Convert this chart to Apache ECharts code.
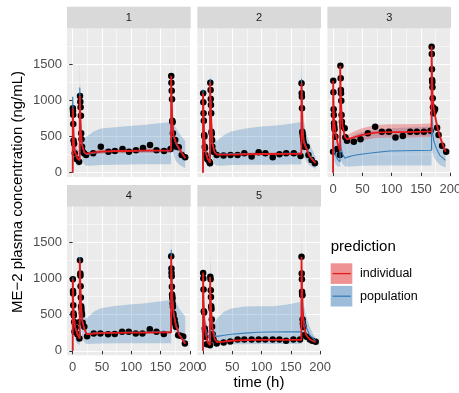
<!DOCTYPE html>
<html>
<head>
<meta charset="utf-8">
<script src="https://cdn.jsdelivr.net/npm/echarts@6/dist/echarts.min.js"></script>
<style>
  html, body { margin: 0; padding: 0; background: #fff; }
  #main { width: 459px; height: 393px; }
</style>
</head>
<body>
<div id="main"></div>
<script>
// shared time grid for the prediction curves and ribbons (h)
const T = [0, 0.1, 1, 2, 4, 8, 12, 12.1, 13, 14, 16, 20, 24, 36, 48, 72, 96, 120, 144, 168, 168.1, 169, 170, 172, 176, 182, 192];

const xTicks = [0, 50, 100, 150, 200];
const xMinor = [25, 75, 125, 175];
const yTicks = [0, 500, 1000, 1500];
const yMinor = [250, 750, 1250, 1750];
const stripLabels = ['1', '2', '3', '4', '5'];

// panel 1
const obs1 = [[0.3,891],[0.5,854],[0.8,800],[1,675],[1.5,445],[2.5,400],[3.5,270],[7,185],[11,152],
  [12.5,1061],[13,982],[13.5,905],[14,789],[14.5,545],[15,462],[16,360],[17,290],[19.5,268],[23,245],
  [35,268],[48,360],[61,291],[72,300],[85,328],[96,291],[108,310],[120,340],[132,383],[143,310],[156,300],[167,328],
  [168.2,1338],[168.5,1245],[169,1135],[169.5,1015],[170,720],[170.5,697],[171,545],[172,452],[173,383],
  [175,452],[177,360],[181,350],[186,245],[192,214]];
const ipred1 = [0, 890, 680, 420, 280, 200, 175, 1060, 800, 560, 380, 280, 260, 280, 290, 300, 300, 305, 305, 305, 1340, 1000, 720, 520, 420, 330, 200];
const ilo1 = [0, 850, 645, 395, 260, 182, 158, 1010, 760, 528, 355, 258, 238, 255, 262, 270, 270, 274, 274, 274, 1280, 950, 680, 490, 392, 305, 180];
const ihi1 = [0, 930, 715, 445, 300, 218, 192, 1110, 840, 592, 405, 302, 282, 305, 318, 330, 330, 336, 336, 336, 1400, 1050, 760, 550, 448, 355, 220];
const ppred1 = [0, 1050, 700, 430, 280, 200, 170, 1180, 820, 560, 380, 270, 250, 270, 285, 295, 300, 300, 305, 305, 1300, 950, 700, 500, 400, 310, 210];
const plo1 = [0, 520, 400, 250, 150, 100, 90, 600, 450, 300, 180, 110, 95, 100, 105, 110, 112, 115, 115, 115, 700, 500, 380, 250, 160, 110, 60];
const phi1 = [0, 1280, 850, 600, 420, 330, 300, 1600, 1000, 750, 560, 480, 500, 570, 610, 630, 645, 660, 680, 700, 1540, 1100, 880, 720, 620, 540, 440];

// panel 2
const obs2 = [[0.3,1099],[0.6,974],[1,822],[1.5,720],[2,522],[2.5,500],[3,360],[3.5,340],[4,245],[7.4,185],[11,150],[12,130],
  [12.5,1245],[13,1144],[13.3,1020],[13.6,937],[14,822],[14.5,567],[15,540],[15.5,452],[16,360],[17.7,291],[23.4,245],
  [35,236],[47,245],[59,245],[70.5,268],[83,222],[95,282],[106.5,268],[119,213],[130.5,254],[142,268],[155,268],[166.5,231],
  [168.2,1237],[168.5,1099],[168.8,1051],[169,891],[169.5,567],[170,540],[170.5,498],[171,452],[172,406],[173,360],
  [177,360],[180,245],[185.4,176],[191,130]];
const ipred2 = [0, 1100, 800, 520, 300, 190, 140, 1250, 1000, 750, 400, 280, 250, 250, 250, 255, 258, 258, 260, 260, 1240, 900, 600, 420, 340, 220, 130];
const ilo2 = [0, 1060, 765, 495, 282, 176, 128, 1200, 958, 715, 378, 262, 232, 230, 230, 234, 236, 236, 238, 238, 1190, 860, 570, 398, 320, 204, 118];
const ihi2 = [0, 1140, 835, 545, 318, 204, 152, 1300, 1042, 785, 422, 298, 268, 270, 270, 276, 280, 280, 282, 282, 1290, 940, 630, 442, 360, 236, 142];
const ppred2 = [0, 1150, 820, 540, 310, 195, 145, 1300, 1020, 760, 410, 285, 255, 258, 260, 262, 265, 265, 268, 268, 1300, 940, 640, 450, 360, 240, 140];
const plo2 = [0, 550, 400, 260, 150, 90, 70, 650, 500, 380, 200, 120, 95, 100, 105, 108, 110, 110, 112, 112, 650, 470, 320, 220, 160, 100, 50];
const phi2 = [0, 1350, 950, 650, 420, 310, 260, 1490, 1100, 850, 560, 450, 440, 520, 570, 610, 635, 650, 670, 700, 1810, 1250, 950, 720, 560, 400, 220];

// panel 3
const obs3 = [[0,291],[0.3,1273],[0.6,1112],[1,877],[1.3,798],[1.6,683],[2,640],[2.5,600],[4,498],[7,327],[11.5,245],
  [12.5,1481],[13,1306],[13.3,1144],[13.5,1100],[14,996],[14.5,798],[15,706],[15.5,646],[19.8,614],[20.9,490],[23.7,443],
  [35.4,429],[46.8,462],[59.3,545],[71.8,637],[83.2,567],[95.2,567],[106.5,485],[119,508],[131.6,567],[143,567],[155,567],[166.4,581],
  [168.2,1744],[168.5,1642],[168.8,1431],[169,1283],[169.3,1250],[169.6,1182],[170,1029],[170.5,905],[171,822],[173,860],[174,880],
  [177.5,623],[180,522],[186,374],[193,291]];
const ipred3 = [0, 1270, 900, 700, 560, 400, 300, 1480, 1150, 900, 650, 500, 460, 490, 520, 555, 560, 560, 565, 570, 1750, 1300, 1050, 880, 700, 500, 290];
const ilo3 = [0, 1180, 830, 640, 500, 350, 250, 1380, 1060, 820, 580, 440, 400, 420, 445, 480, 485, 485, 490, 495, 1640, 1200, 960, 800, 630, 440, 240];
const ihi3 = [0, 1360, 970, 760, 620, 450, 350, 1600, 1240, 980, 720, 560, 520, 570, 610, 660, 670, 670, 675, 680, 1900, 1400, 1140, 960, 770, 560, 340];
const ppred3 = [0, 500, 380, 300, 240, 180, 150, 520, 400, 330, 260, 200, 215, 240, 255, 280, 300, 303, 306, 310, 800, 650, 540, 440, 340, 240, 170];
const plo3 = [0, 250, 200, 160, 120, 90, 80, 260, 210, 170, 120, 90, 85, 90, 95, 100, 100, 100, 100, 100, 400, 330, 270, 220, 160, 110, 70];
const phi3 = [0, 900, 700, 560, 450, 380, 340, 950, 760, 620, 500, 440, 450, 520, 560, 590, 610, 620, 630, 640, 1200, 1000, 850, 700, 560, 420, 300];

// panel 4
const obs4 = [[0.3,992],[0.6,830],[0.8,794],[1,632],[1.5,517],[2,490],[2.5,401],[3,263],[5,323],[8,231],[11.5,171],
  [12.2,401],[12.5,1255],[13,1071],[13.2,1040],[13.5,895],[14,739],[14.5,619],[15,580],[15.5,526],[16,500],[17,388],[19.9,332],[24.6,203],
  [35.9,240],[47.3,240],[60.4,231],[71.8,235],[84.3,263],[95.7,263],[107.6,240],[119,240],[131.6,300],[143,263],[155.5,235],
  [168.2,1310],[168.5,1140],[168.7,1080],[169,1033],[169.3,886],[169.6,780],[170,750],[170.3,720],[170.6,655],[171,610],[171.5,517],[172,490],
  [174,434],[175,378],[176,332],[180,217],[184,210],[188.6,200],[191.5,101]];
const ipred4 = [0, 990, 650, 480, 330, 230, 170, 1255, 950, 700, 420, 300, 230, 240, 245, 250, 252, 252, 255, 255, 1310, 950, 720, 520, 350, 220, 100];
const ilo4 = [0, 950, 620, 458, 314, 216, 158, 1205, 910, 668, 400, 284, 214, 222, 226, 230, 232, 232, 234, 234, 1260, 910, 688, 496, 332, 206, 90];
const ihi4 = [0, 1030, 680, 502, 346, 244, 182, 1305, 990, 732, 440, 316, 246, 258, 264, 270, 272, 272, 276, 276, 1360, 990, 752, 544, 368, 234, 110];
const ppred4 = [0, 1020, 680, 500, 340, 235, 175, 1300, 980, 720, 430, 305, 235, 245, 250, 255, 258, 258, 260, 260, 1400, 1000, 760, 550, 370, 230, 110];
const plo4 = [0, 500, 380, 260, 160, 100, 80, 650, 500, 360, 200, 120, 95, 100, 102, 105, 105, 105, 105, 105, 700, 500, 380, 300, 240, 200, 150];
const phi4 = [0, 1150, 800, 600, 440, 350, 300, 1490, 1100, 850, 580, 470, 450, 540, 590, 620, 640, 655, 680, 705, 1810, 1250, 1000, 820, 680, 580, 480];

// panel 5
const obs5 = [[0.3,1079],[0.6,1002],[1,849],[1.5,549],[2,530],[3,310],[3.5,263],[4,194],[6.3,93],[12,79],
  [12.5,1024],[13,990],[13.3,840],[13.6,747],[14,619],[14.5,580],[15,434],[15.5,332],[16.5,231],[18,157],[23.4,101],
  [35.2,116],[46.6,130],[59.1,157],[70.5,157],[83,157],[95,157],[106.4,157],[119,157],[130.4,157],[141.8,140],[154.3,157],[165.7,157],
  [168.2,1301],[168.5,1071],[168.8,992],[169,817],[169.3,780],[169.6,770],[170,434],[170.5,378],[171,350],[171.5,330],
  [172.5,217],[177,194],[182.7,157],[186.7,140],[192.4,126]];
const ipred5 = [0, 1080, 700, 450, 260, 120, 80, 1024, 760, 560, 300, 160, 120, 128, 140, 150, 152, 152, 152, 152, 1300, 900, 600, 350, 220, 160, 120];
const ilo5 = [0, 1045, 675, 432, 248, 112, 72, 985, 730, 536, 286, 150, 110, 118, 130, 140, 142, 142, 142, 142, 1255, 865, 575, 334, 208, 150, 110];
const ihi5 = [0, 1115, 725, 468, 272, 128, 88, 1063, 790, 584, 314, 170, 130, 138, 150, 160, 162, 162, 162, 162, 1345, 935, 625, 366, 232, 170, 130];
const ppred5 = [0, 800, 600, 450, 320, 220, 170, 900, 700, 520, 330, 220, 200, 215, 230, 245, 258, 262, 263, 263, 1000, 780, 600, 420, 330, 220, 140];
const plo5 = [0, 300, 250, 180, 120, 80, 60, 350, 280, 200, 120, 80, 80, 85, 90, 92, 95, 95, 95, 95, 400, 320, 250, 170, 130, 100, 80];
const phi5 = [0, 1200, 900, 650, 450, 320, 260, 1370, 1050, 800, 500, 379, 450, 540, 586, 615, 618, 618, 640, 678, 1670, 1200, 800, 650, 480, 330, 170];

const panels = [
  { obs: obs1, ipred: ipred1, ilo: ilo1, ihi: ihi1, ppred: ppred1, plo: plo1, phi: phi1 },
  { obs: obs2, ipred: ipred2, ilo: ilo2, ihi: ihi2, ppred: ppred2, plo: plo2, phi: phi2 },
  { obs: obs3, ipred: ipred3, ilo: ilo3, ihi: ihi3, ppred: ppred3, plo: plo3, phi: phi3 },
  { obs: obs4, ipred: ipred4, ilo: ilo4, ihi: ihi4, ppred: ppred4, plo: plo4, phi: phi4 },
  { obs: obs5, ipred: ipred5, ilo: ilo5, ihi: ihi5, ppred: ppred5, plo: plo5, phi: phi5 }
];

// facet layout (pixels)
const W = 123.7, H = 148.5, STRIP = 21.8;
const layout = [
  { left: 67, top: 28.5, showX: false, showY: true },
  { left: 197.3, top: 28.5, showX: false, showY: false },
  { left: 327.4, top: 28.5, showX: true, showY: false },
  { left: 67, top: 206.7, showX: true, showY: true },
  { left: 197.3, top: 206.7, showX: true, showY: false }
];
const XMIN = -9.7, XMAX = 201.4, YMIN = -60, YMAX = 1995;
const FONT = 'Liberation Sans, Arial, Helvetica, sans-serif';
const RED = '#E41A1C', BLUE = '#377EB8';

function ribbon(i, lo, hi, color) {
  return {
    type: 'custom',
    xAxisIndex: 2 * i,
    yAxisIndex: 2 * i,
    silent: true,
    data: T.map((t, k) => [t, lo[k], hi[k]]),
    encode: { x: 0, y: [1, 2] },
    renderItem: function (params, api) {
      if (params.dataIndex !== 0) return null;
      const upper = T.map((t, k) => api.coord([t, hi[k]]));
      const lower = T.map((t, k) => api.coord([t, lo[k]])).reverse();
      return { type: 'polygon', shape: { points: upper.concat(lower) }, style: { fill: color } };
    }
  };
}

function predLine(i, vals, color, width) {
  return {
    type: 'line',
    xAxisIndex: 2 * i,
    yAxisIndex: 2 * i,
    silent: true,
    symbol: 'none',
    data: T.map((t, k) => [t, vals[k]]),
    lineStyle: { color: color, width: width }
  };
}

const plain = v => String(v);
const grids = [], xAxes = [], yAxes = [], series = [], graphics = [];

layout.forEach((L, i) => {
  grids.push({ left: L.left, top: L.top, width: W, height: H, show: true,
    backgroundColor: '#EBEBEB', borderWidth: 0, outerBoundsMode: 'none' });

  xAxes.push({ gridIndex: i, type: 'value', min: XMIN, max: XMAX,
    axisLine: { show: false },
    axisTick: { show: L.showX, customValues: xTicks, length: 3.5, lineStyle: { color: '#333333', width: 1 } },
    axisLabel: { show: L.showX, customValues: xTicks, formatter: plain, margin: 6, color: '#4D4D4D', fontSize: 13, fontFamily: FONT },
    splitLine: { show: true, lineStyle: { color: '#FFFFFF', width: 1.1 } } });
  xAxes.push({ gridIndex: i, type: 'value', min: XMIN, max: XMAX, position: 'bottom',
    axisLine: { show: false },
    axisTick: { show: false, customValues: xMinor },
    axisLabel: { show: false, customValues: xMinor },
    splitLine: { show: true, lineStyle: { color: '#FFFFFF', width: 0.55 } } });

  yAxes.push({ gridIndex: i, type: 'value', min: YMIN, max: YMAX,
    axisLine: { show: false },
    axisTick: { show: L.showY, customValues: yTicks, length: 3.5, lineStyle: { color: '#333333', width: 1 } },
    axisLabel: { show: L.showY, customValues: yTicks, formatter: plain, margin: 5, color: '#4D4D4D', fontSize: 13, fontFamily: FONT },
    splitLine: { show: true, lineStyle: { color: '#FFFFFF', width: 1.1 } } });
  yAxes.push({ gridIndex: i, type: 'value', min: YMIN, max: YMAX, position: 'left',
    axisLine: { show: false },
    axisTick: { show: false, customValues: yMinor },
    axisLabel: { show: false, customValues: yMinor },
    splitLine: { show: true, lineStyle: { color: '#FFFFFF', width: 0.55 } } });

  const p = panels[i];
  series.push(ribbon(i, p.plo, p.phi, 'rgba(55,126,184,0.3)'));
  series.push(ribbon(i, p.ilo, p.ihi, 'rgba(228,26,28,0.3)'));
  series.push(predLine(i, p.ppred, BLUE, 1.1));
  series.push(predLine(i, p.ipred, RED, 1.8));
  series.push({ type: 'scatter', xAxisIndex: 2 * i, yAxisIndex: 2 * i, silent: true,
    data: p.obs, symbolSize: 6.5, itemStyle: { color: '#000000', opacity: 1 } });

  // facet strip
  graphics.push({ type: 'rect', shape: { x: L.left, y: L.top - STRIP, width: W, height: STRIP },
    style: { fill: '#D9D9D9' }, silent: true });
  graphics.push({ type: 'text', x: L.left + W / 2, y: L.top - STRIP / 2,
    style: { text: stripLabels[i], fill: '#1A1A1A', font: '11px ' + FONT,
      textAlign: 'center', textVerticalAlign: 'middle', align: 'center', verticalAlign: 'middle' } });
});

// axis titles
graphics.push({ type: 'text', x: 259, y: 383,
  style: { text: 'time (h)', fill: '#000', font: '15px ' + FONT,
    textAlign: 'center', textVerticalAlign: 'middle', align: 'center', verticalAlign: 'middle' } });
graphics.push({ type: 'text', x: 17.5, y: 192, rotation: Math.PI / 2,
  style: { text: 'ME\u22122 plasma concentration (ng/mL)', fill: '#000', font: '15px ' + FONT,
    textAlign: 'center', textVerticalAlign: 'middle', align: 'center', verticalAlign: 'middle' } });

// legend
graphics.push({ type: 'text', x: 330.7, y: 247,
  style: { text: 'prediction', fill: '#000', font: '15px ' + FONT,
    textAlign: 'left', textVerticalAlign: 'middle', align: 'left', verticalAlign: 'middle' } });
const legendItems = [
  { label: 'individual', fill: '#EF9293', line: RED, y: 263.3 },
  { label: 'population', fill: '#9CBCDA', line: BLUE, y: 285.9 }
];
legendItems.forEach(it => {
  graphics.push({ type: 'rect', shape: { x: 330.7, y: it.y, width: 21.6, height: 20.6 }, style: { fill: it.fill } });
  graphics.push({ type: 'line', shape: { x1: 332.5, y1: it.y + 10.3, x2: 350.8, y2: it.y + 10.3 },
    style: { stroke: it.line, lineWidth: 1.3 } });
  graphics.push({ type: 'text', x: 360, y: it.y + 10.3,
    style: { text: it.label, fill: '#000', font: '12.5px ' + FONT,
      textAlign: 'left', textVerticalAlign: 'middle', align: 'left', verticalAlign: 'middle' } });
});

const chart = echarts.init(document.getElementById('main'));
chart.setOption({
  animation: false,
  backgroundColor: '#FFFFFF',
  grid: grids,
  xAxis: xAxes,
  yAxis: yAxes,
  series: series,
  graphic: { elements: graphics }
});
</script>
</body>
</html>
